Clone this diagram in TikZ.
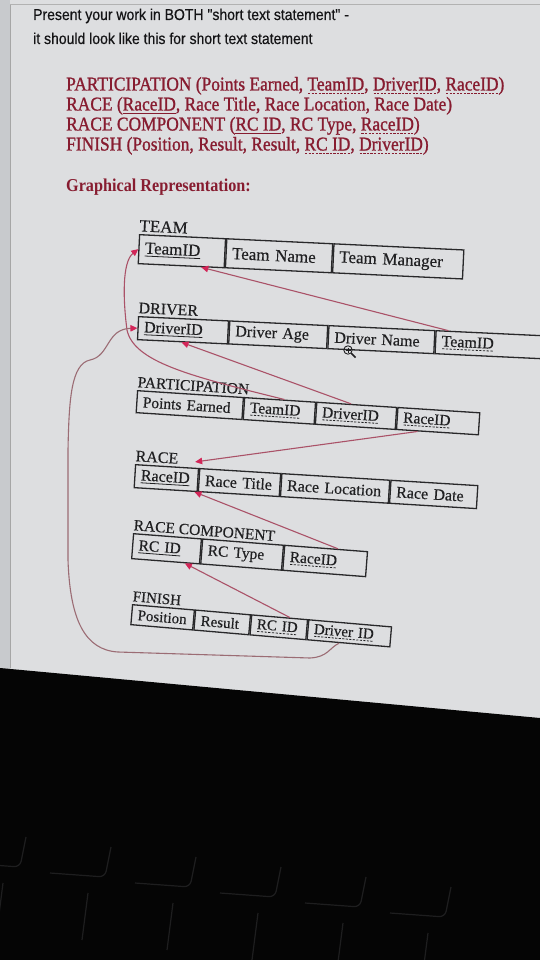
\documentclass[tikz,border=0pt]{standalone}
\usepackage{fontspec}
\setmainfont{Liberation Serif}
\newfontfamily\arialf[FakeBold=0.5]{Liberation Sans}
\newfontfamily\stmtf[FakeBold=1.2]{Liberation Serif}
\newfontfamily\tabf[FakeBold=0.4]{Liberation Serif}
\usetikzlibrary{arrows.meta,calc}

\newsavebox\ulbox
\newcommand\solidul[1]{\leavevmode\sbox\ulbox{#1}\vtop{\hbox{\usebox\ulbox}\kern-\dp\ulbox\kern2pt\nointerlineskip\hrule height0.8pt width\wd\ulbox}}
\newcommand\dashul[1]{\leavevmode\sbox\ulbox{#1}\vtop{\hbox{\usebox\ulbox}\kern-\dp\ulbox\kern2pt\nointerlineskip\hbox to\wd\ulbox{\xleaders\hbox to3.5pt{\hss\vrule height0.8pt depth0pt width2.2pt\hss}\hfill}}}

\definecolor{screen}{RGB}{221,222,224}
\definecolor{screenedge}{RGB}{200,202,205}
\definecolor{stmt}{RGB}{135,28,48}
\definecolor{conn}{RGB}{170,82,104}
\definecolor{connlow}{RGB}{155,108,116}
\definecolor{tipc}{RGB}{210,38,88}
\definecolor{ink}{RGB}{32,32,34}
\definecolor{tabline}{RGB}{40,40,42}
\definecolor{keyc}{RGB}{30,30,31}

\begin{document}
\begin{tikzpicture}[x=1pt,y=-1pt,
  cell/.style={draw=tabline, line width=1.3pt, anchor=north west, inner xsep=6pt, inner ysep=0pt, align=left, text=ink, text width=#1},
  tlabel/.style={anchor=south west, inner sep=0pt, minimum height=0pt, text=ink},
  stline/.style={anchor=base west, inner sep=0pt, text=stmt, yscale=1.12, font=\stmtf\fontsize{17.4}{20}\selectfont},
  headline/.style={anchor=base west, inner sep=0pt, yscale=1.12, text={rgb,255:red,20;green,20;blue,22}, font=\arialf\fontsize{14}{16}\selectfont},
  link/.style={draw=conn, line width=1.1pt, -{Triangle[length=7pt,width=6.5pt,color=tipc]}},
]
\useasboundingbox (0,0) rectangle (540,960);
% screen and dark area
\fill[screen] (0,0) rectangle (540,960);
\fill[screenedge] (0,0) rectangle (10,700);
\draw[gray!70, line width=0.8pt] (10,4) -- (10,668);
\draw[gray!60, line width=0.8pt] (10,4) -- (540,4);
\fill[black!98] (0,668) -- (540,718) -- (540,960) -- (0,960) -- cycle;
% faint keyboard keys
\foreach \i in {0,...,5} {
  \pgfmathsetmacro\cx{20+85*\i}
  \pgfmathsetmacro\cy{867+10*\i}
  \draw[keyc, line width=1.2pt, rounded corners=6pt] (\cx-55,\cy-4) -- (\cx,\cy) -- (\cx+6,\cy-30);
  \draw[keyc, line width=1.2pt] (\cx-17,\cy+16) -- (\cx-23,\cy+63);
}

% header text
\node[headline] (h1) at (33,20) {Present your work in BOTH "short text statement" -};
\node[headline] (h2) at (33,44) {it should look like this for short text statement};

% short text statements
\node[stline] (s1) at (66,90.5) {PARTICIPATION (Points Earned, \dashul{TeamID}, \dashul{DriverID}, \dashul{RaceID})};
\node[stline] (s2) at (66,110.5) {RACE (\solidul{RaceID}, Race Title, Race Location, Race Date)};
\node[stline] (s3) at (66,130.5) {RACE COMPONENT (\solidul{RC ID}, RC Type, \dashul{RaceID})};
\node[stline] (s4) at (66,150.5) {FINISH (Position, Result, Result, \dashul{RC ID}, \dashul{DriverID})};
\node[stline, font=\bfseries\fontsize{16.2}{20}\selectfont] (s5) at (66,191) {Graphical Representation:};

% TEAM
\begin{scope}[shift={(139,234)}, rotate=-2.7, transform shape, nodes={minimum height=29pt, font=\tabf\fontsize{17}{20}\selectfont}]
  \node[tlabel] (lTeam) at (0,-2.5) {TEAM};
  \node[cell=74pt] (tTeamID) at (0,0) {\solidul{TeamID}};
  \node[cell=94pt] (tName) at (tTeamID.north east) {Team Name};
  \node[cell=118pt] (tMgr) at (tName.north east) {Team Manager};
\end{scope}

% DRIVER
\begin{scope}[shift={(138,316)}, rotate=-2.7, transform shape, nodes={minimum height=23pt, font=\tabf\fontsize{16}{19}\selectfont}]
  \node[tlabel] (lDriver) at (0,-2.5) {DRIVER};
  \node[cell=78pt] (dID) at (0,0) {\solidul{DriverID}};
  \node[cell=86pt] (dAge) at (dID.north east) {Driver Age};
  \node[cell=94pt] (dName) at (dAge.north east) {Driver Name};
  \node[cell=94pt] (dTeam) at (dName.north east) {\dashul{TeamID}};
\end{scope}

% PARTICIPATION
\begin{scope}[shift={(137,390)}, rotate=-3.7, transform shape, nodes={minimum height=22pt, font=\tabf\fontsize{15.5}{18}\selectfont}]
  \node[tlabel] (lPart) at (0,-2.5) {PARTICIPATION};
  \node[cell=94pt] (pPts) at (0,0) {Points Earned};
  \node[cell=59pt] (pTeam) at (pPts.north east) {\dashul{TeamID}};
  \node[cell=68pt] (pDriver) at (pTeam.north east) {\dashul{DriverID}};
  \node[cell=70pt] (pRace) at (pDriver.north east) {\dashul{RaceID}};
\end{scope}

% RACE
\begin{scope}[shift={(135,464)}, rotate=-3.5, transform shape, nodes={minimum height=23pt, font=\tabf\fontsize{16}{19}\selectfont}]
  \node[tlabel] (lRace) at (0,-2.5) {RACE};
  \node[cell=51pt] (rID) at (0,0) {\solidul{RaceID}};
  \node[cell=69pt] (rTitle) at (rID.north east) {Race Title};
  \node[cell=96pt] (rLoc) at (rTitle.north east) {Race Location};
  \node[cell=75pt] (rDate) at (rLoc.north east) {Race Date};
\end{scope}

% RACE COMPONENT
\begin{scope}[shift={(133,533)}, rotate=-4.4, transform shape, nodes={minimum height=25pt, font=\tabf\fontsize{15.5}{18}\selectfont}]
  \node[tlabel] (lRC) at (0,-2.5) {RACE COMPONENT};
  \node[cell=56pt] (cID) at (0,0) {\solidul{RC ID}};
  \node[cell=69pt] (cType) at (cID.north east) {RC Type};
  \node[cell=71pt] (cRace) at (cType.north east) {\dashul{RaceID}};
\end{scope}

% FINISH
\begin{scope}[shift={(132,604)}, rotate=-4.9, transform shape, nodes={minimum height=20pt, font=\tabf\fontsize{15}{18}\selectfont}]
  \node[tlabel] (lFin) at (0,-2.5) {FINISH};
  \node[cell=50pt] (fPos) at (0,0) {Position};
  \node[cell=43pt] (fRes) at (fPos.north east) {Result};
  \node[cell=44pt] (fRC) at (fRes.north east) {\dashul{RC ID}};
  \node[cell=71pt] (fDrv) at (fRC.north east) {\dashul{Driver ID}};
\end{scope}

% cursor (magnifier)
\draw[ink, line width=0.9pt] (348,350) circle (4.2);
\draw[ink, line width=0.8pt] (345.5,350) -- (350.5,350) (348,347.5) -- (348,352.5);
\draw[ink, line width=1.6pt] (351.2,353.2) -- (355.5,357.5);

% connectors
\draw[link] ($(dTeam.north west)!0.12!(dTeam.north east)$) -- ($(tTeamID.south west)!0.73!(tTeamID.south east)$);
\draw[link] ($(pTeam.north west)!0.56!(pTeam.north east)$) .. controls (190,376) and (134,362) .. (127,330) .. controls (123,300) and (122,262) .. (tTeamID.west);
\draw[link] ($(pDriver.north west)!0.43!(pDriver.north east)$) -- ($(dID.south west)!0.49!(dID.south east)$);
\draw[link] ($(pRace.south west)!0.26!(pRace.south east)$) -- ($(rID.north east)+(-4,-6)$);
\draw[link] ($(cRace.north west)!0.64!(cRace.north east)$) -- ($(rID.south west)!0.95!(rID.south east)$);
\draw[link] ($(fRC.north west)!0.68!(fRC.north east)$) -- ($(cID.south west)!0.78!(cID.south east)$);
\draw[link, draw=connlow] ($(fDrv.south west)!0.39!(fDrv.south east)$) .. controls (329,648) and (328,657) .. (310,658) -- (118,652) .. controls (85,650) and (70,620) .. (68,560) -- (68,450) .. controls (69,400) and (71,364) .. (90,360) .. controls (110,356) and (106,329) .. (dID.west);
\end{tikzpicture}
\end{document}
